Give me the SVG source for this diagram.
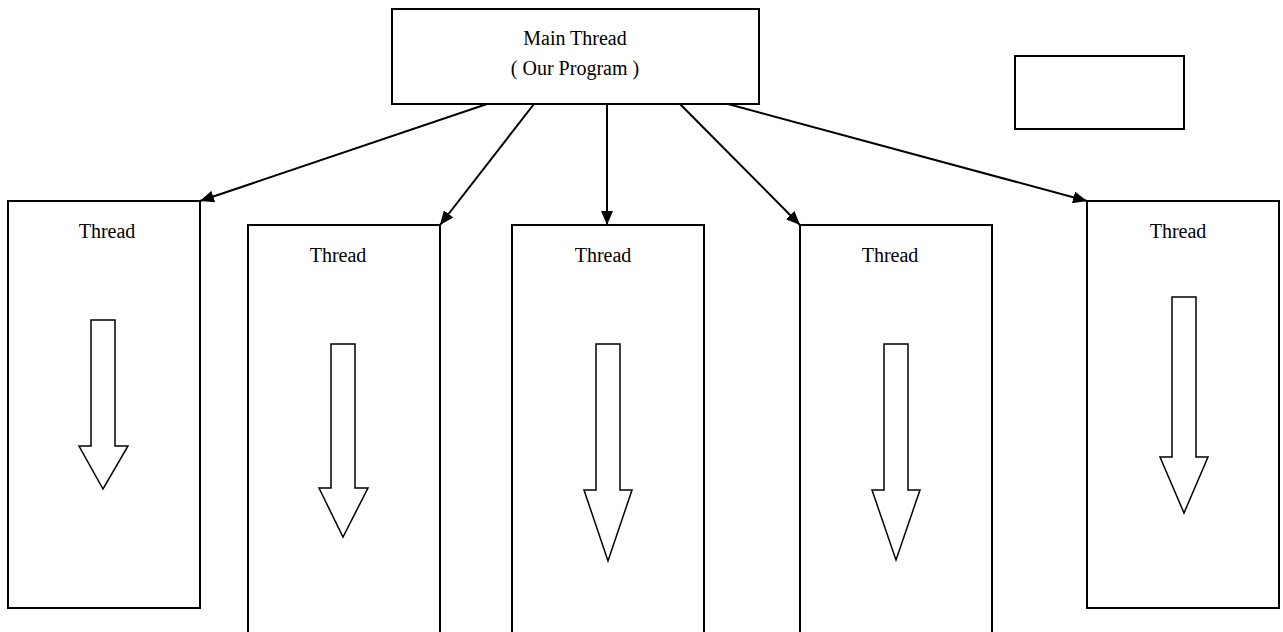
<svg xmlns="http://www.w3.org/2000/svg" width="1283" height="632" viewBox="0 0 1283 632">
<style>
.box{fill:#fff;stroke:#000;stroke-width:2}
.blk{fill:#fff;stroke:#000;stroke-width:1.5;stroke-linejoin:miter}
.t{font-family:"Liberation Serif","Times New Roman",serif;font-size:20px;fill:#000;text-anchor:middle}
.c{stroke:#000;stroke-width:2;fill:none}
</style>
<defs>
<marker id="ah" viewBox="0 0 14 12" refX="14" refY="6" markerWidth="14" markerHeight="12" markerUnits="userSpaceOnUse" orient="auto">
<path d="M0,0 L14,6 L0,12 Z" fill="#000"/>
</marker>
</defs>
<rect width="1283" height="632" fill="#fff"/>
<g id="main">
<rect class="box" x="392" y="9" width="367" height="95"/>
<text class="t" x="575" y="45">Main Thread</text>
<text class="t" x="575" y="75">( Our Program )</text>
</g>
<g id="empty">
<rect class="box" x="1015" y="56" width="169" height="73"/>
</g>
<g id="t1">
<rect class="box" x="8" y="201" width="192" height="407"/>
<text class="t" x="107" y="238">Thread</text>
<path class="blk" d="M91,320 H115 V446 H128 L103,489 L79,446 H91 Z"/>
</g>
<g id="t2">
<path class="box" d="M248,633 V225 H440 V633"/>
<text class="t" x="338" y="262">Thread</text>
<path class="blk" d="M331,344 H355 V488 H368 L343,537 L319,488 H331 Z"/>
</g>
<g id="t3">
<path class="box" d="M512,633 V225 H704 V633"/>
<text class="t" x="603" y="262">Thread</text>
<path class="blk" d="M596,344 H620 V490 H632 L608,561 L584,490 H596 Z"/>
</g>
<g id="t4">
<path class="box" d="M800,633 V225 H992 V633"/>
<text class="t" x="890" y="262">Thread</text>
<path class="blk" d="M884,344 H908 V490 H920 L896,560 L872,490 H884 Z"/>
</g>
<g id="t5">
<rect class="box" x="1087" y="201" width="192" height="407"/>
<text class="t" x="1178" y="238">Thread</text>
<path class="blk" d="M1172,297 H1196 V457 H1208 L1184,513 L1160,457 H1172 Z"/>
</g>
<g id="connectors">
<line class="c" x1="487" y1="104" x2="200" y2="201" marker-end="url(#ah)"/>
<line class="c" x1="534" y1="104" x2="440" y2="225" marker-end="url(#ah)"/>
<line class="c" x1="607" y1="104" x2="607" y2="225" marker-end="url(#ah)"/>
<line class="c" x1="680" y1="104" x2="800" y2="225" marker-end="url(#ah)"/>
<line class="c" x1="728" y1="104" x2="1087" y2="201" marker-end="url(#ah)"/>
</g>
</svg>
